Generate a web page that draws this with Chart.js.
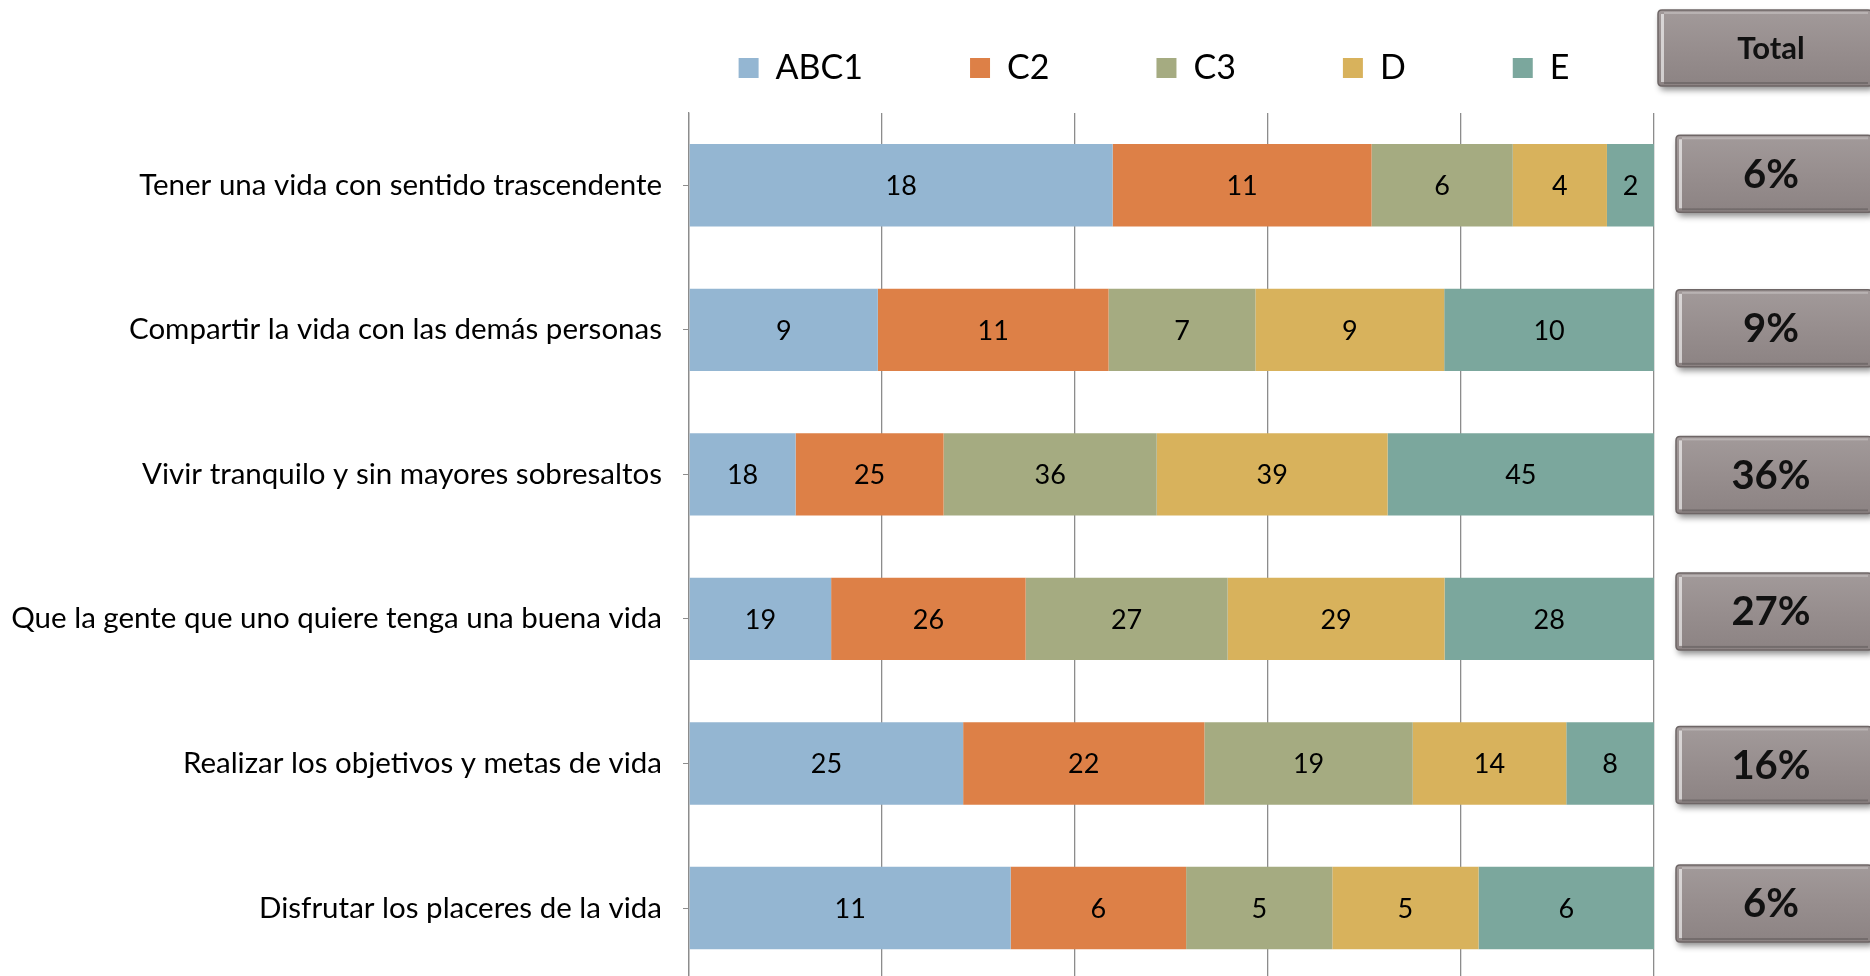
<!DOCTYPE html>
<html>
<head>
<meta charset="utf-8">
<script src="https://cdn.jsdelivr.net/npm/chart.js@4/dist/chart.umd.min.js"></script>
<style>
html, body { margin: 0; padding: 0; background: #ffffff; overflow: hidden; }
#wrap { position: relative; width: 1870px; height: 1019px; }
</style>
</head>
<body>
<div id="wrap"><canvas id="c"></canvas></div>
<script>
// ---- data ----
const categories = [
  'Tener una vida con sentido trascendente',
  'Compartir la vida con las demás personas',
  'Vivir tranquilo y sin mayores sobresaltos',
  'Que la gente que uno quiere tenga una buena vida',
  'Realizar los objetivos y metas de vida',
  'Disfrutar los placeres de la vida'
];
const seriesNames = ['ABC1', 'C2', 'C3', 'D', 'E'];
const abc1 = [18, 9, 18, 19, 25, 11];
const c2   = [11, 11, 25, 26, 22, 6];
const c3   = [6, 7, 36, 27, 19, 5];
const dSeg = [4, 9, 39, 29, 14, 5];
const eSeg = [2, 10, 45, 28, 8, 6];
const totalPct = [6, 9, 36, 27, 16, 6];
const totalHeader = 'Total';
const xTicks = [0, 20, 40, 60, 80, 100];
const seriesColors = ['#94B6D2', '#DD8047', '#A5AB81', '#D8B25C', '#7BA79D'];

// layout nudges of the hand-placed "Total" buttons (px, relative to each row centre)
const buttonNudge = [-12, -2, 0, -8, 1, -5];

// ---- build 100% stacked data ----
const rawSeries = [abc1, c2, c3, dSeg, eSeg];
const rowSums = categories.map((_, i) => rawSeries.reduce((s, arr) => s + arr[i], 0));
const datasets = rawSeries.map((arr, k) => ({
  label: seriesNames[k],
  data: arr.map((v, i) => v / rowSums[i] * 100),
  raw: arr,
  backgroundColor: seriesColors[k],
  borderWidth: 0,
  barPercentage: 1.0,
  categoryPercentage: 0.57
}));

const FONT = 'Lato, "Open Sans", sans-serif';

// ---- plugins ----
const valueLabels = {
  id: 'valueLabels',
  afterDatasetsDraw(chart) {
    const ctx = chart.ctx;
    ctx.save();
    ctx.font = '27px ' + FONT;
    ctx.fillStyle = '#000';
    ctx.textAlign = 'center';
    ctx.textBaseline = 'middle';
    chart.data.datasets.forEach((ds, di) => {
      const meta = chart.getDatasetMeta(di);
      meta.data.forEach((bar, i) => {
        const p = bar.getCenterPoint();
        ctx.fillText(String(ds.raw[i]), p.x, p.y + 1);
      });
    });
    ctx.restore();
  }
};

function drawButton(ctx, x, y, w, h, text, font, textX) {
  const r = 4;
  ctx.save();
  ctx.beginPath();
  ctx.moveTo(x + r, y);
  ctx.lineTo(x + w - r, y);
  ctx.quadraticCurveTo(x + w, y, x + w, y + r);
  ctx.lineTo(x + w, y + h - r);
  ctx.quadraticCurveTo(x + w, y + h, x + w - r, y + h);
  ctx.lineTo(x + r, y + h);
  ctx.quadraticCurveTo(x, y + h, x, y + h - r);
  ctx.lineTo(x, y + r);
  ctx.quadraticCurveTo(x, y, x + r, y);
  ctx.closePath();
  ctx.shadowColor = 'rgba(0,0,0,0.45)';
  ctx.shadowBlur = 6;
  ctx.shadowOffsetX = 2;
  ctx.shadowOffsetY = 4;
  const g = ctx.createLinearGradient(0, y, 0, y + h);
  g.addColorStop(0, '#a29a9a');
  g.addColorStop(0.5, '#978e8e');
  g.addColorStop(1, '#8c8383');
  ctx.fillStyle = g;
  ctx.fill();
  ctx.shadowColor = 'transparent';
  ctx.lineWidth = 1.5;
  ctx.strokeStyle = '#6e6666';
  ctx.stroke();
  // highlights
  ctx.fillStyle = 'rgba(255,255,255,0.6)';
  ctx.fillRect(x + 3, y + 4, 3, h - 8);
  ctx.fillStyle = 'rgba(255,255,255,0.25)';
  ctx.fillRect(x + 6, y + 2, w - 10, 2);
  ctx.fillStyle = 'rgba(0,0,0,0.18)';
  ctx.fillRect(x + 6, y + h - 4, w - 10, 2);
  // text
  ctx.font = font;
  ctx.fillStyle = '#111';
  ctx.textAlign = 'center';
  ctx.textBaseline = 'middle';
  ctx.fillText(text, textX, y + h / 2 + 1);
  ctx.restore();
}

const totalBoxes = {
  id: 'totalBoxes',
  afterDraw(chart) {
    const ctx = chart.ctx;
    const area = chart.chartArea;
    const yScale = chart.scales.y;
    const textX = area.right + 117;
    // header
    drawButton(ctx, area.right + 4, area.top - 103, 214, 76, totalHeader, 'bold 31px ' + FONT, textX);
    totalPct.forEach((v, i) => {
      const cy = yScale.getPixelForValue(i) + buttonNudge[i];
      drawButton(ctx, area.right + 22, cy - 38, 196, 77, v + '%', 'bold 40px ' + FONT, textX);
    });
  }
};

const legendShift = {
  id: 'legendShift',
  afterLayout(chart) {
    const L = chart.legend;
    if (!L) return;
    L.left += 327; L.right += 327;
    L.top -= 18; L.bottom -= 18;
  }
};

new Chart(document.getElementById('c'), {
  type: 'bar',
  data: { labels: categories, datasets: datasets },
  options: {
    indexAxis: 'y',
    responsive: true,
    maintainAspectRatio: false,
    animation: false,
    layout: { padding: { top: -38, right: 216, bottom: 13, left: 0 } },
    scales: {
      x: {
        stacked: true,
        min: 0,
        max: 100,
        afterBuildTicks: (scale) => { scale.ticks = xTicks.map(v => ({ value: v })); },
        ticks: { display: false },
        grid: { color: '#8c8c8c', lineWidth: 1.3, drawTicks: false },
        border: { display: false }
      },
      y: {
        stacked: true,
        afterFit: (scale) => { scale.width = 689; },
        ticks: { color: '#000', font: { family: FONT, size: 29.5 }, padding: 21 },
        grid: { display: true, drawOnChartArea: false, offset: false, tickLength: 6, color: '#8c8c8c' },
        border: { display: true, color: '#8c8c8c', width: 1.3 }
      }
    },
    plugins: {
      legend: {
        position: 'top',
        align: 'center',
        labels: {
          color: '#000',
          font: { family: FONT, size: 34 },
          boxWidth: 20,
          boxHeight: 20,
          padding: 107
        }
      },
      tooltip: { enabled: false },
      title: { display: false }
    }
  },
  plugins: [valueLabels, totalBoxes, legendShift]
});
</script>
</body>
</html>
